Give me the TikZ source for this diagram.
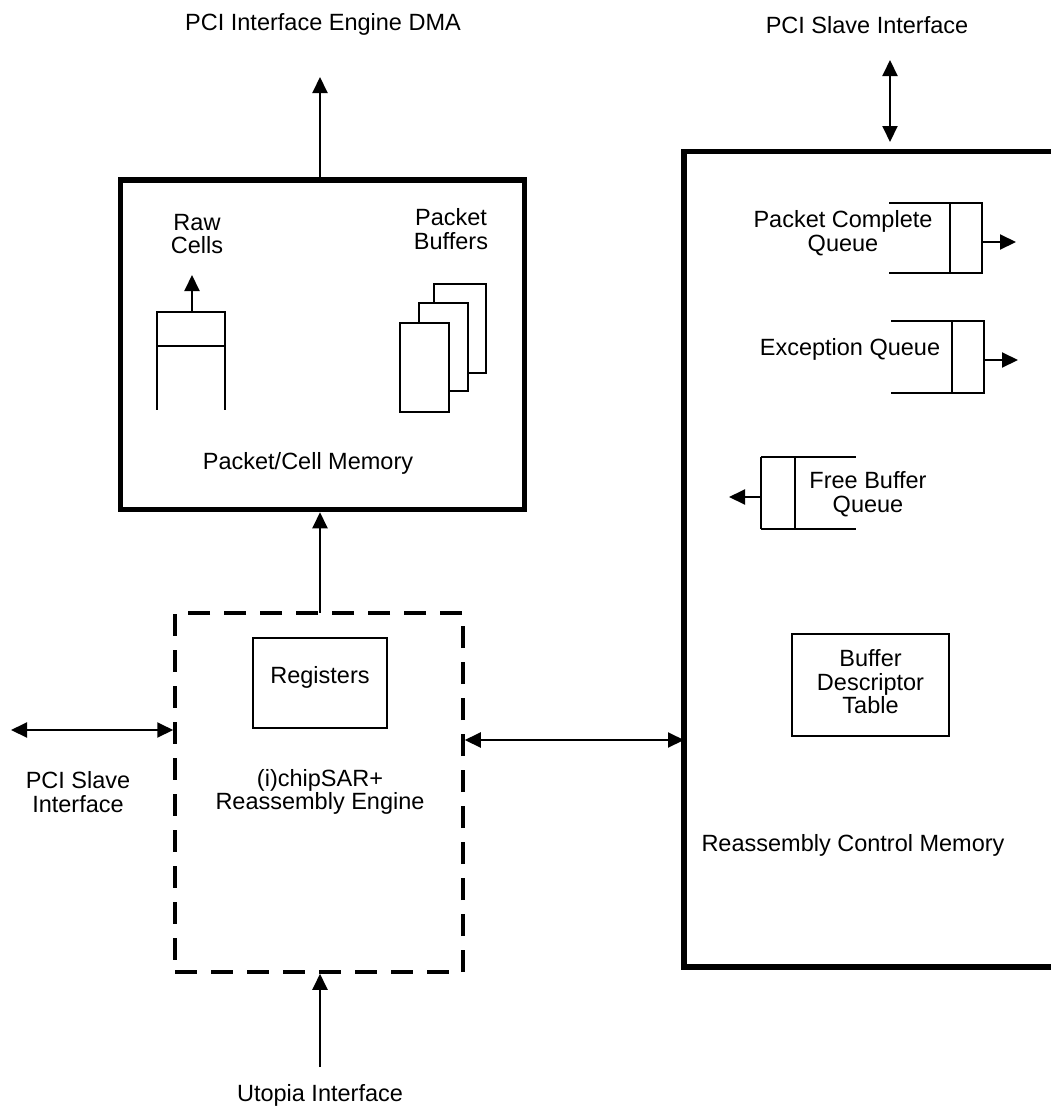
\documentclass[tikz,border=0pt]{standalone}
\usepackage{fontspec}
\setmainfont{Liberation Sans}
\usetikzlibrary{arrows.meta}
\begin{document}
\begin{tikzpicture}[x=1pt,y=-1pt,
  every node/.style={font=\fontsize{23.5}{23.5}\selectfont},
  txt/.style={align=center,inner sep=0pt},
  heavybox/.style={draw,line width=5.5pt,inner sep=0pt},
  thin/.style={line width=2pt},
  arr/.style={line width=2pt,-{Triangle[length=16pt,width=15pt]}},
  darr/.style={line width=2pt,{Triangle[length=16pt,width=15pt]}-{Triangle[length=16pt,width=15pt]}},
  dashbox/.style={draw,line width=3.5pt,dash pattern=on 22pt off 14pt,inner sep=0pt}
]
\useasboundingbox (0,0) rectangle (1051,1111);

% ---- Packet/Cell Memory ----
\node[heavybox,minimum width=404pt,minimum height=329.5pt] (pcm) at (322.5,344.75) {};
\node[txt] (pcmlbl) at (308,463) {Packet/Cell Memory};
\node[txt] (dmalbl) at (323,24) {PCI Interface Engine DMA};
\coordinate (dmatip) at (320,77);
\draw[arr] (dmatip |- pcm.north) -- (dmatip);

% Raw cells
\node[txt] (rawlbl) at (197,234) {Raw\\Cells};
\draw[thin] (157,311) -- (157,410);
\draw[thin] (225,311) -- (225,410);
\draw[thin] (157,312) -- (225,312);
\draw[thin] (157,346) -- (225,346);
\coordinate (rawbase) at (192,312);
\coordinate (rawtip) at (192,275);
\draw[arr] (rawbase) -- (rawtip);

% Packet buffers
\node[txt] (pbuflbl) at (451,229) {Packet\\Buffers};
\draw[thin,fill=white] (434,284) rectangle (486,373);
\draw[thin,fill=white] (419,303) rectangle (468,391);
\draw[thin,fill=white] (400,323) rectangle (449,412);

% ---- Reassembly Control Memory ----
\draw[line width=5.5pt] (1070,151.5) -- (684,151.5) -- (684,967) -- (1070,967);
\node[inner sep=0pt,outer sep=2.75pt,minimum width=400pt,minimum height=815.5pt,anchor=north west] (rcm) at (684,151.5) {};
\node[txt] (rcmlbl) at (853,845) {Reassembly Control Memory};
\node[txt] (psrlbl) at (867,25) {PCI Slave Interface};
\coordinate (pstop) at (890,60);
\coordinate (psbot) at (890,142);
\draw[darr] (pstop) -- (psbot);

% Packet Complete Queue
\node[txt] (pcqlbl) at (843,233) {Packet Complete\\Queue};
\draw[thin] (889,203) -- (983,203);
\draw[thin] (889,273) -- (983,273);
\draw[thin] (950,203) -- (950,273);
\draw[thin] (982,202) -- (982,272);
\coordinate (pcqbase) at (982,242);
\coordinate (pcqtip) at (1016,242);
\draw[arr] (pcqbase) -- (pcqtip);

% Exception Queue
\node[txt] (exqlbl) at (850,349) {Exception Queue};
\draw[thin] (891,321) -- (985,321);
\draw[thin] (891,393) -- (985,393);
\draw[thin] (952,321) -- (952,393);
\draw[thin] (984,320) -- (984,392);
\coordinate (exqbase) at (984,360);
\coordinate (exqtip) at (1018,360);
\draw[arr] (exqbase) -- (exqtip);

% Free Buffer Queue
\node[txt] (fbqlbl) at (868,494) {Free Buffer\\Queue};
\draw[thin] (761,457) -- (856,457);
\draw[thin] (761,529) -- (856,529);
\draw[thin] (761,457) -- (761,529);
\draw[thin] (795,457) -- (795,529);
\coordinate (fbqbase) at (761,497);
\coordinate (fbqtip) at (729,497);
\draw[arr] (fbqbase) -- (fbqtip);

% Buffer Descriptor Table
\node[draw,line width=2pt,minimum width=157pt,minimum height=102pt,inner sep=0pt] (bdt) at (870.5,685) {};
\node[txt] (bdtlbl) at (870.5,682) {Buffer\\Descriptor\\Table};

% ---- Reassembly engine (dashed) ----
\node[dashbox,minimum width=288pt,minimum height=359pt] (eng) at (319,792.5) {};
\node[draw,line width=2pt,minimum width=134pt,minimum height=90pt,inner sep=0pt] (reg) at (320,683) {};
\node[txt] (reglbl) at (320,677) {Registers};
\node[txt] (englbl) at (320,792) {(i)chipSAR+\\Reassembly Engine};
\coordinate (engtop) at (320,613);
\draw[arr] (engtop) -- (engtop |- pcm.south);

\node[txt] (pslbl) at (78,792) {PCI Slave\\Interface};
\coordinate (pslt) at (11,730);
\draw[darr] (pslt) -- (pslt -| eng.west);

\coordinate (midy) at (0,740);
\draw[darr] (eng.east |- midy) -- (rcm.west |- midy);

\node[txt] (utolbl) at (320,1095) {Utopia Interface};
\coordinate (utobot) at (320,1067);
\draw[arr] (utobot) -- (utobot |- eng.south);
\end{tikzpicture}
\end{document}
